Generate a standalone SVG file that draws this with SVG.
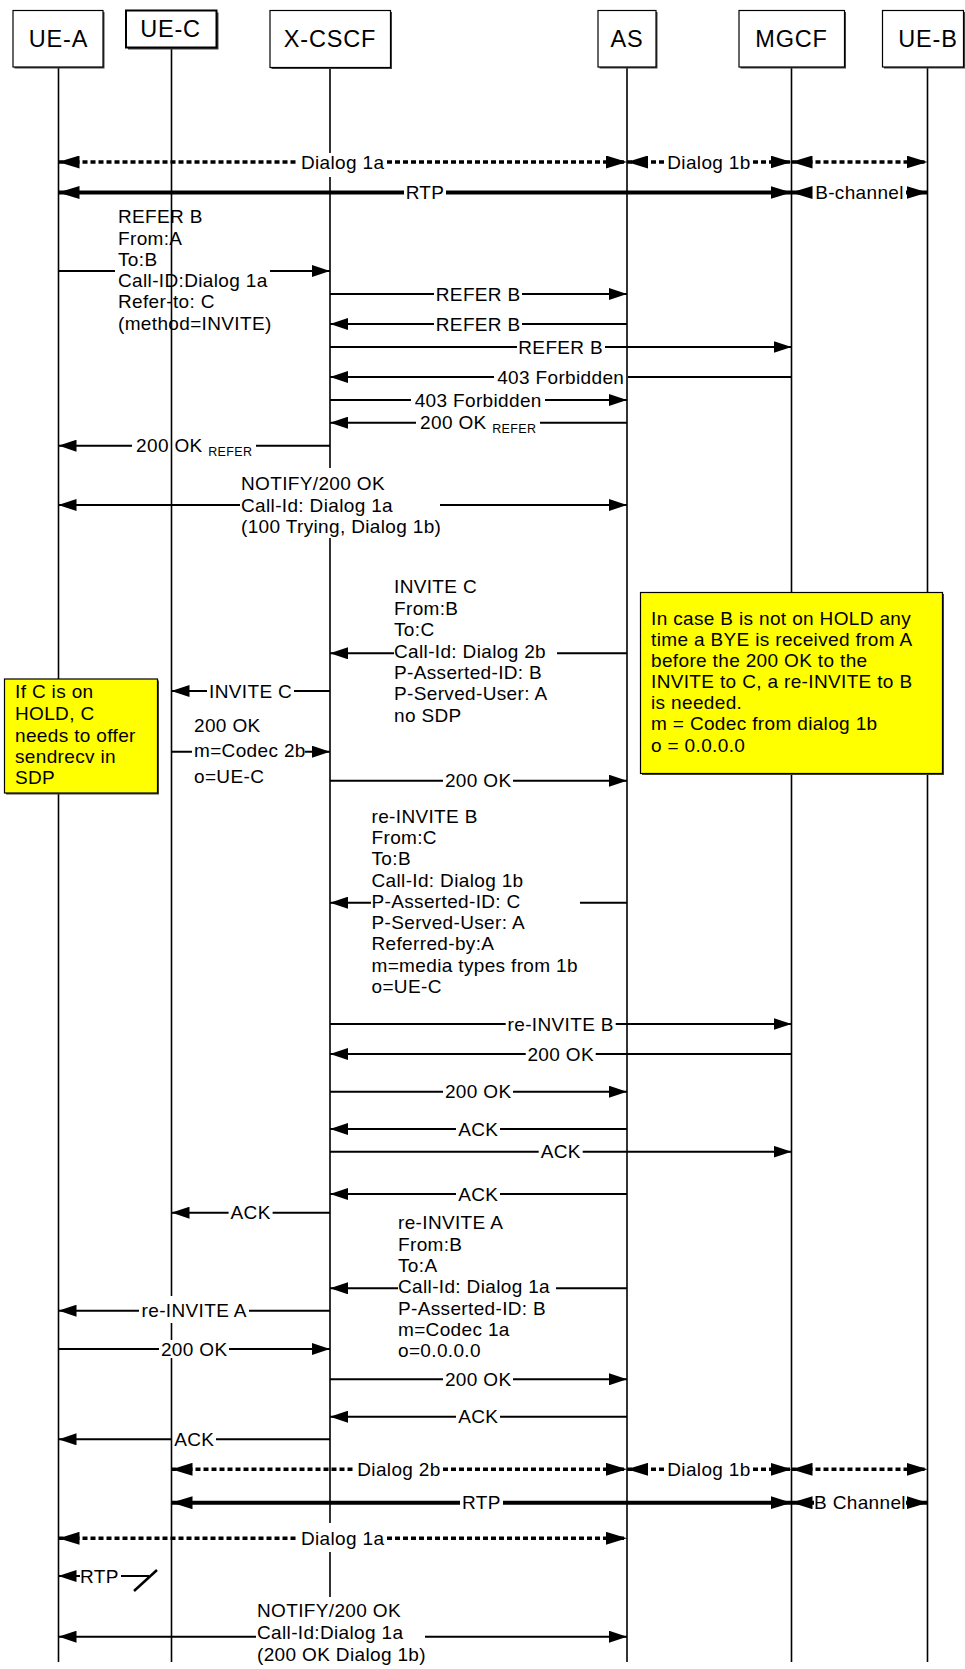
<svg xmlns="http://www.w3.org/2000/svg" width="965" height="1669" viewBox="0 0 965 1669">
<defs>
<marker id="ah" markerUnits="userSpaceOnUse" markerWidth="18" markerHeight="12" viewBox="0 0 18 12" refX="18" refY="6" orient="auto-start-reverse"><path d="M0,0L18,6L0,12z" fill="#000"/></marker>
<marker id="ahd" markerUnits="userSpaceOnUse" markerWidth="21" markerHeight="13" viewBox="0 0 21 13" refX="21" refY="6.5" orient="auto-start-reverse"><path d="M0,0L21,6.5L0,13z" fill="#000"/></marker>
<style>
.ll{stroke:#000;stroke-width:1.6;fill:none}
.m{stroke:#000;stroke-width:2;fill:none;marker-end:url(#ah)}
.mb{stroke:#000;stroke-width:2;fill:none;marker-start:url(#ah);marker-end:url(#ah)}
.d{stroke:#000;stroke-width:3.5;stroke-dasharray:5 3;fill:none;marker-start:url(#ahd);marker-end:url(#ahd)}
.r{stroke:#000;stroke-width:4;fill:none;marker-start:url(#ahd);marker-end:url(#ahd)}
.t{font-family:"Liberation Sans",Arial,sans-serif;font-size:19px;letter-spacing:0.35px;fill:#000}
.c{text-anchor:middle}
.h{font-size:23.5px;letter-spacing:0.8px}
.box{fill:#fff;stroke:#000;stroke-width:1.2}
.sh{fill:#444}
.note{fill:#ffff00;stroke:#000;stroke-width:1.2}
</style>
</defs>
<rect width="965" height="1669" fill="#fff"/>

<g id="lifelines">
<path class="ll" d="M58.5,67V1662"/>
<path class="ll" d="M171.5,48V1296M171.5,1323V1340M171.5,1358V1662"/>
<path class="ll" d="M330,68V153M330,177V468M330,538V1523M330,1552V1597"/>
<path class="ll" d="M627,67V1662"/>
<path class="ll" d="M791.5,67V1662"/>
<path class="ll" d="M927.5,67V1662"/>
</g>

<g id="node-UE-A"><rect class="sh" x="14.5" y="12" width="90" height="56.5"/><rect class="box" x="13" y="10.5" width="90" height="56.5"/><text class="t h c" x="58.5" y="46.7">UE-A</text></g>
<g id="node-UE-C"><rect class="sh" x="128" y="12.5" width="90.5" height="37"/><rect class="box" x="126" y="10.5" width="90.5" height="37" style="stroke-width:2"/><text class="t h c" x="170.5" y="36.7">UE-C</text></g>
<g id="node-X-CSCF"><rect class="sh" x="271.5" y="12" width="120.5" height="57"/><rect class="box" x="270" y="10.5" width="120.5" height="57"/><text class="t h c" x="330" y="46.7">X-CSCF</text></g>
<g id="node-AS"><rect class="sh" x="599.5" y="12" width="58" height="56.5"/><rect class="box" x="598" y="10.5" width="58" height="56.5"/><text class="t h c" x="627" y="46.7">AS</text></g>
<g id="node-MGCF"><rect class="sh" x="740.5" y="12" width="105.5" height="56.5"/><rect class="box" x="739" y="10.5" width="105.5" height="56.5"/><text class="t h c" x="791.5" y="46.7">MGCF</text></g>
<g id="node-UE-B"><rect class="sh" x="884" y="12" width="81" height="56.5"/><rect class="box" x="882.5" y="10.5" width="81" height="56.5"/><text class="t h c" x="928" y="46.7">UE-B</text></g>

<g id="connectors">
<path class="d" d="M58.5,162H298M387,162H627"/>
<text class="t c" x="342.6" y="168.5">Dialog 1a</text>
<path class="d" d="M627,162H665M753,162H791.5"/>
<text class="t c" x="709" y="168.5">Dialog 1b</text>
<path class="d" d="M791.5,162H927.5"/>
<path class="r" d="M58.5,192.5H404M446,192.5H791.5"/>
<text class="t c" x="425" y="199">RTP</text>
<path class="r" d="M791.5,192.5H812M906,192.5H927.5"/>
<text class="t c" x="859.5" y="199">B-channel</text>

<path class="m" d="M58.5,271H115M270,271H330"/>
<text class="t" x="118" y="223">REFER B</text>
<text class="t" x="118" y="245">From:A</text>
<text class="t" x="118" y="266">To:B</text>
<text class="t" x="118" y="287">Call-ID:Dialog 1a</text>
<text class="t" x="118" y="308">Refer-to: C</text>
<text class="t" x="118" y="330">(method=INVITE)</text>

<path class="m" d="M330,294H434M522,294H627"/>
<text class="t c" x="478.2" y="300.5">REFER B</text>
<path class="m" d="M627,324H522M434,324H330"/>
<text class="t c" x="478.2" y="330.5">REFER B</text>
<path class="m" d="M330,347H517M605,347H791.5"/>
<text class="t c" x="560.7" y="353.5">REFER B</text>
<path class="m" d="M791.5,377H628M494,377H330"/>
<text class="t c" x="560.7" y="383.5">403 Forbidden</text>
<path class="m" d="M330,400H411M545,400H627"/>
<text class="t c" x="478.2" y="406.5">403 Forbidden</text>
<path class="m" d="M627,422.7H540M416,422.7H330"/>
<text class="t c" x="478.2" y="429.2">200 OK <tspan font-size="12.5" dy="3.5">REFER</tspan></text>
<path class="m" d="M330,445.7H256M132,445.7H58.5"/>
<text class="t c" x="194.2" y="452.2">200 OK <tspan font-size="12.5" dy="3.5">REFER</tspan></text>

<path class="mb" d="M58.5,505H240M440,505H627"/>
<text class="t" x="241" y="490">NOTIFY/200 OK</text>
<text class="t" x="241" y="511.5">Call-Id: Dialog 1a</text>
<text class="t" x="241" y="533">(100 Trying, Dialog 1b)</text>

<path class="m" d="M627,653.3H557M394,653.3H330"/>
<text class="t" x="394" y="593.3">INVITE C</text>
<text class="t" x="394" y="614.7">From:B</text>
<text class="t" x="394" y="636.1">To:C</text>
<text class="t" x="394" y="657.5">Call-Id: Dialog 2b</text>
<text class="t" x="394" y="678.9">P-Asserted-ID: B</text>
<text class="t" x="394" y="700.3">P-Served-User: A</text>
<text class="t" x="394" y="721.7">no SDP</text>

<path class="m" d="M330,691H294M207,691H171.5"/>
<text class="t c" x="250.6" y="697.5">INVITE C</text>

<path class="m" d="M171.5,751.7H192M305,751.7H330"/>
<text class="t" x="194" y="731.7">200 OK</text>
<text class="t" x="194" y="757">m=Codec 2b</text>
<text class="t" x="194" y="782.5">o=UE-C</text>

<path class="m" d="M330,780.7H443M513,780.7H627"/>
<text class="t c" x="478.2" y="787.2">200 OK</text>

<path class="m" d="M627,902.7H580M371,902.7H330"/>
<text class="t" x="371.5" y="822.7">re-INVITE B</text>
<text class="t" x="371.5" y="844">From:C</text>
<text class="t" x="371.5" y="865.2">To:B</text>
<text class="t" x="371.5" y="886.5">Call-Id: Dialog 1b</text>
<text class="t" x="371.5" y="907.7">P-Asserted-ID: C</text>
<text class="t" x="371.5" y="929">P-Served-User: A</text>
<text class="t" x="371.5" y="950.2">Referred-by:A</text>
<text class="t" x="371.5" y="971.5">m=media types from 1b</text>
<text class="t" x="371.5" y="992.7">o=UE-C</text>

<path class="m" d="M330,1024H505.7M615.7,1024H791.5"/>
<text class="t c" x="560.7" y="1030.5">re-INVITE B</text>
<path class="m" d="M791.5,1054H595.7M525.7,1054H330"/>
<text class="t c" x="560.7" y="1060.5">200 OK</text>
<path class="m" d="M330,1091.7H443M513,1091.7H627"/>
<text class="t c" x="478.2" y="1098.2">200 OK</text>
<path class="m" d="M627,1129H500M456,1129H330"/>
<text class="t c" x="478.2" y="1135.5">ACK</text>
<path class="m" d="M330,1151.7H538.7M582.7,1151.7H791.5"/>
<text class="t c" x="560.7" y="1158.2">ACK</text>
<path class="m" d="M627,1194H500M456,1194H330"/>
<text class="t c" x="478.2" y="1200.5">ACK</text>
<path class="m" d="M330,1212.7H272.6M228.6,1212.7H171.5"/>
<text class="t c" x="250.6" y="1219.2">ACK</text>

<path class="m" d="M627,1288.3H556M398,1288.3H330"/>
<text class="t" x="398" y="1229.3">re-INVITE A</text>
<text class="t" x="398" y="1250.7">From:B</text>
<text class="t" x="398" y="1272">To:A</text>
<text class="t" x="398" y="1293.3">Call-Id: Dialog 1a</text>
<text class="t" x="398" y="1314.7">P-Asserted-ID: B</text>
<text class="t" x="398" y="1336">m=Codec 1a</text>
<text class="t" x="398" y="1357.3">o=0.0.0.0</text>

<path class="m" d="M330,1310.7H249M139,1310.7H58.5"/>
<text class="t c" x="194.2" y="1317.2">re-INVITE A</text>
<path class="m" d="M58.5,1349H159M229,1349H330"/>
<text class="t c" x="194.2" y="1355.5">200 OK</text>
<path class="m" d="M330,1379.3H443M513,1379.3H627"/>
<text class="t c" x="478.2" y="1385.8">200 OK</text>
<path class="m" d="M627,1416.7H500M456,1416.7H330"/>
<text class="t c" x="478.2" y="1423.2">ACK</text>
<path class="m" d="M330,1439.3H216M172,1439.3H58.5"/>
<text class="t c" x="194.2" y="1445.8">ACK</text>

<path class="d" d="M171.5,1469.3H355M443,1469.3H627"/>
<text class="t c" x="399" y="1475.8">Dialog 2b</text>
<path class="d" d="M627,1469.3H665M753,1469.3H791.5"/>
<text class="t c" x="709" y="1475.8">Dialog 1b</text>
<path class="d" d="M791.5,1469.3H927.5"/>
<path class="r" d="M171.5,1502.7H460M503,1502.7H791.5"/>
<text class="t c" x="481.4" y="1509.2">RTP</text>
<path class="r" d="M791.5,1502.7H814M906,1502.7H927.5"/>
<text class="t c" x="860" y="1509.2">B Channel</text>
<path class="d" d="M58.5,1538.3H298M387,1538.3H627"/>
<text class="t c" x="342.6" y="1544.8">Dialog 1a</text>

<path class="m" d="M149,1576H121M80,1576H58.5"/>
<text class="t" x="80" y="1582.5">RTP</text>
<path d="M134,1591L157,1570" stroke="#000" stroke-width="2.5" fill="none"/>

<path class="mb" d="M58.5,1636.7H256M425,1636.7H627"/>
<text class="t" x="257" y="1617">NOTIFY/200 OK</text>
<text class="t" x="257" y="1639">Call-Id:Dialog 1a</text>
<text class="t" x="257" y="1661">(200 OK Dialog 1b)</text>
</g>

<g id="note-right">
<rect class="sh" x="642" y="594" width="302" height="181"/>
<rect class="note" x="640.5" y="592.5" width="302" height="181"/>
<text class="t" x="651" y="625">In case B is not on HOLD any</text>
<text class="t" x="651" y="646">time a BYE is received from A</text>
<text class="t" x="651" y="667">before the 200 OK to the</text>
<text class="t" x="651" y="688">INVITE to C, a re-INVITE to B</text>
<text class="t" x="651" y="709">is needed.</text>
<text class="t" x="651" y="730">m = Codec from dialog 1b</text>
<text class="t" x="651" y="752">o = 0.0.0.0</text>
</g>

<g id="note-left">
<rect class="sh" x="6" y="680.5" width="153" height="114"/>
<rect class="note" x="4.5" y="679" width="153" height="114"/>
<text class="t" x="15" y="698">If C is on</text>
<text class="t" x="15" y="720">HOLD, C</text>
<text class="t" x="15" y="741.7">needs to offer</text>
<text class="t" x="15" y="763">sendrecv in</text>
<text class="t" x="15" y="784">SDP</text>
</g>
</svg>
